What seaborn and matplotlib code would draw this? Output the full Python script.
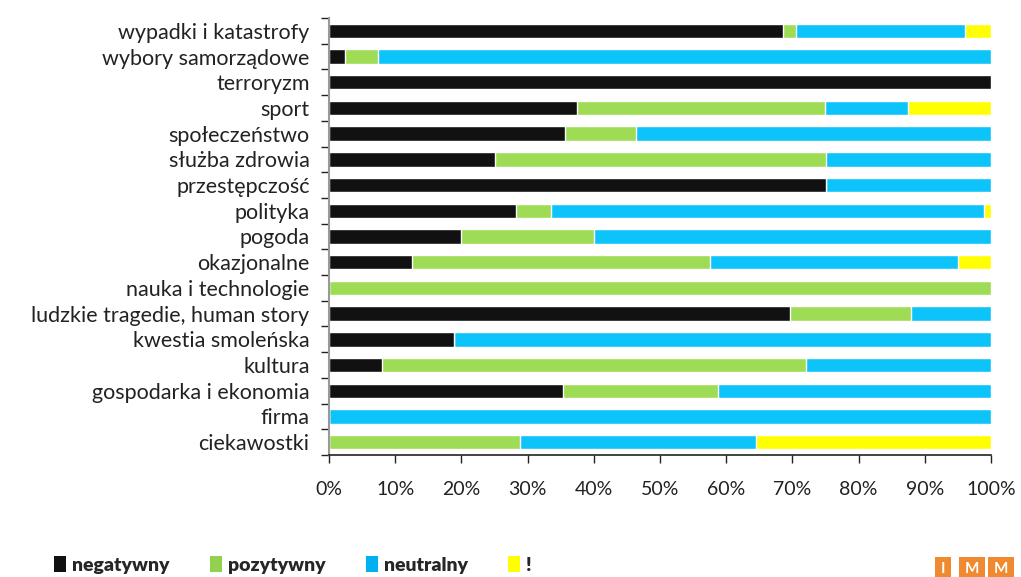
import matplotlib
matplotlib.use("Agg")
import matplotlib.pyplot as plt
import seaborn as sns
import numpy as np
import pandas as pd
from matplotlib.patches import Patch
from matplotlib.ticker import FixedLocator, PercentFormatter

categories = ["wypadki i katastrofy", "wybory samorządowe", "terroryzm", "sport",
              "społeczeństwo", "służba zdrowia", "przestępczość", "polityka",
              "pogoda", "okazjonalne", "nauka i technologie",
              "ludzkie tragedie, human story", "kwestia smoleńska", "kultura",
              "gospodarka i ekonomia", "firma", "ciekawostki"]
negatywny = [68.6, 2.4, 100, 37.4, 35.7, 25.0, 75.0, 28.2, 20.0, 12.5, 0, 69.7, 18.9, 8.0, 35.3, 0, 0]
pozytywny = [1.9, 5.0, 0, 37.5, 10.7, 50.0, 0, 5.4, 20.0, 45.0, 100, 18.2, 0, 64.0, 23.4, 0, 28.9]
neutralny = [25.6, 92.6, 0, 12.6, 53.6, 25.0, 25.0, 65.3, 60.0, 37.5, 0, 12.1, 81.1, 28.0, 41.3, 100, 35.6]
wykrzyknik = [3.9, 0, 0, 12.5, 0, 0, 0, 1.1, 0, 5.0, 0, 0, 0, 0, 0, 0, 35.5]
series_names = ["negatywny", "pozytywny", "neutralny", "!"]
bar_colors = ["#111111", "#9edc55", "#0cc4fa", "#ffff00"]
legend_colors = ["#111111", "#92d050", "#00b0f0", "#ffff00"]
x_ticks = list(range(0, 101, 10))

sns.set_theme(style="white")
plt.rcParams["font.family"] = ["Lato", "DejaVu Sans"]

df = pd.DataFrame({"cat": categories, "negatywny": negatywny, "pozytywny": pozytywny,
                   "neutralny": neutralny, "!": wykrzyknik})
cum = df[series_names].cumsum(axis=1)

fig = plt.figure(figsize=(10.21, 5.77), dpi=100)
ax = fig.add_axes([329/1021, 1-455/577, (991-329)/1021, (455-18)/577])

for name, col in reversed(list(zip(series_names, bar_colors))):
    sns.barplot(x=cum[name], y=df["cat"], orient="h", color=col, width=0.56,
                saturation=1, ax=ax, order=categories)

ax.set_xlim(0, 100)
ax.set_ylim(len(categories) - 0.5, -0.5)
ax.set_xlabel("")
ax.set_ylabel("")
ax.xaxis.set_major_locator(FixedLocator(x_ticks))
ax.xaxis.set_major_formatter(PercentFormatter(decimals=0))
ax.tick_params(axis="x", length=6, width=1, color="#222222", direction="out",
               pad=13, labelsize=14, labelcolor="#222222", bottom=True)
ax.tick_params(axis="y", which="major", length=0, labelsize=15.5, labelcolor="#222222", pad=14)
ax.yaxis.set_minor_locator(FixedLocator(np.arange(-0.5, len(categories), 1)))
ax.tick_params(axis="y", which="minor", length=6, width=1, color="#222222", left=True)
for s in ["top", "right"]:
    ax.spines[s].set_visible(False)
ax.spines["bottom"].set_color("#222222")
ax.spines["bottom"].set_linewidth(1.2)
ax.spines["left"].set_color("#999999")
ax.spines["left"].set_linewidth(1.5)
ax.grid(False)

handles = [Patch(facecolor=c, edgecolor="none") for c in legend_colors]
fig.legend(handles, series_names, loc="center left", bbox_to_anchor=(0.036, 1-565/577),
           ncol=4, frameon=False, handlelength=0.6, handleheight=0.85, handletextpad=0.3,
           columnspacing=2.1, prop={"weight": "heavy", "size": 14})

for i, letter in enumerate(["I", "M", "M"]):
    fig.text((943 + i*29)/1021, 1-569/577, letter, ha="center", va="center", color="white",
             fontsize=11, fontweight="bold",
             bbox=dict(boxstyle="square,pad=0.35", facecolor="#f08a30", edgecolor="none"))

fig.savefig("out.png", dpi=100)
